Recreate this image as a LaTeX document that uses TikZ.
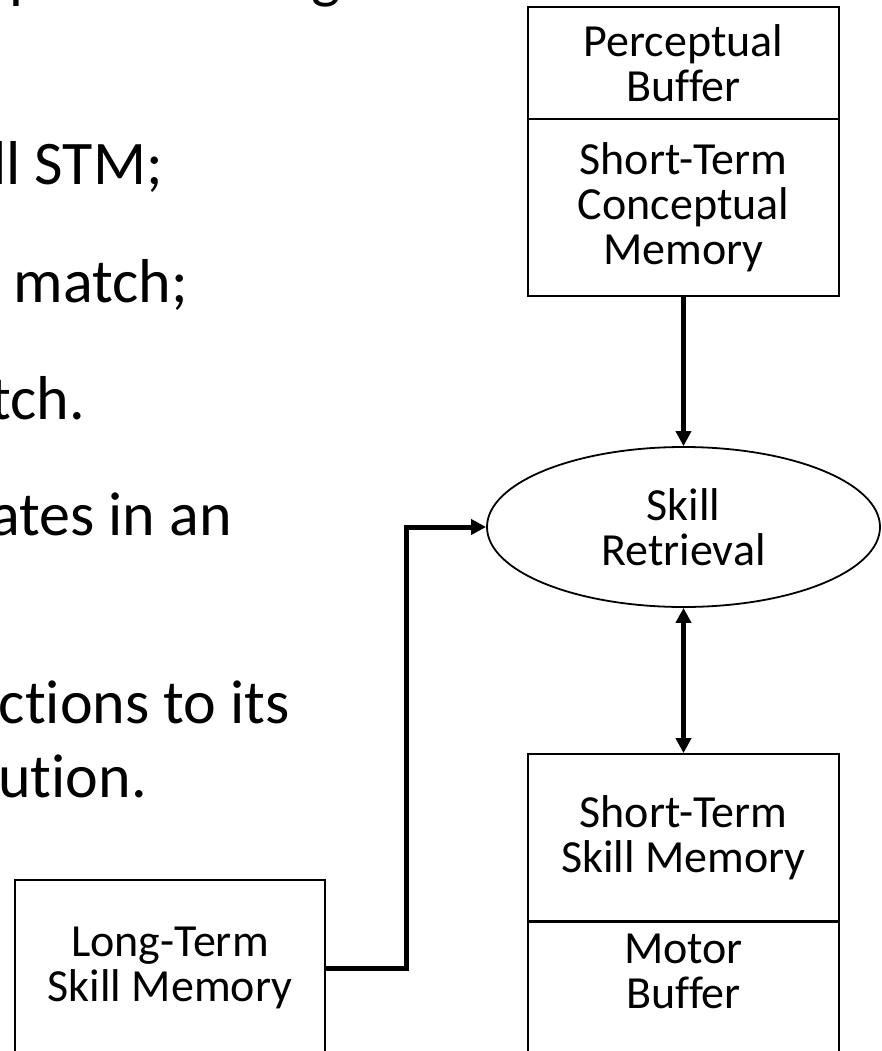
\documentclass[tikz,border=0pt]{standalone}
\usepackage{fontspec}
\setmainfont{Carlito}[Ligatures=CommonOff]
\usetikzlibrary{shapes.geometric,arrows.meta}

\tikzset{
  compartment/.style={draw, rectangle, line width=1.8pt, minimum width=311pt,
    inner sep=0pt, align=center, font=\fontsize{46}{45}\selectfont},
  retrieval/.style={draw, ellipse, line width=1.8pt, minimum width=393pt,
    minimum height=160pt, inner sep=0pt, align=center,
    font=\fontsize{46}{45}\selectfont},
  conn/.style={line width=5pt, >={Triangle[length=15pt,width=15pt]}},
  slidetext/.style={anchor=base east, inner sep=0pt,
    font=\fontsize{62}{74}\selectfont},
  slidefrag/.style={anchor=base west, inner sep=0pt,
    font=\fontsize{62}{74}\selectfont},
}

\begin{document}
\begin{tikzpicture}[x=1pt, y=-1pt]
  \useasboundingbox (0,0) rectangle (882,1051);
  \fill[white] (0,0) rectangle (882,1051);
  \clip (0,0) rectangle (882,1051);

  % bullet text running in from the left of the slide
  \node[slidefrag] (fragp) at (9,-3) {p};
  \node[slidefrag] (fragg) at (311,-3) {g};
  \node[slidetext] (t1) at (163,185) {ll STM;};
  \node[slidetext] (t2) at (188,302) {match;};
  \node[slidetext] (t3) at (85,419) {tch.};
  \node[slidetext] (t4) at (232,535) {ates in an};
  \node[slidetext] (t5) at (290,723) {ctions to its};
  \node[slidetext] (t6) at (147,797) {ution.};

  % conceptual side
  \node[compartment, minimum height=112pt] (pb) at (683.5,63) {Perceptual\\Buffer};
  \node[compartment, minimum height=177pt] (stcm) at (683.5,207.5) {Short-Term\\Conceptual\\Memory};

  % retrieval process
  \node[retrieval] (sr) at (683.5,527) {Skill\\Retrieval};

  % skill side
  \node[compartment, minimum height=167pt] (stsm) at (683.5,837.5) {Short-Term\\Skill Memory};
  \node[compartment, anchor=north, inner ysep=12pt] (mb) at (683.5,921)
    {Motor\\Buffer\rule[-100pt]{0pt}{0pt}};
  \node[compartment, minimum width=310pt, minimum height=176pt] (ltsm) at (170,968) {Long-Term\\Skill Memory};

  % connectors
  \coordinate (bend) at (406,0);
  \draw[conn, ->] (stcm.south) -- (sr.north);
  \draw[conn, <->] (sr.south) -- (stsm.north);
  \draw[conn, ->] (ltsm.east) -- (ltsm.east -| bend) |- (sr.west);
\end{tikzpicture}
\end{document}
